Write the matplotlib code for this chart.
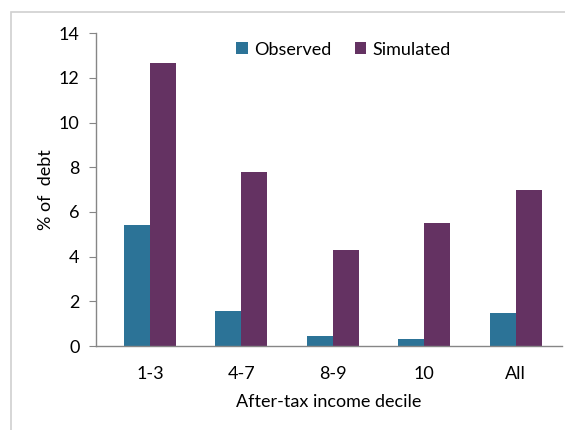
import matplotlib.pyplot as plt
import numpy as np
from matplotlib.patches import Rectangle

# data
categories = ['1-3', '4-7', '8-9', '10', 'All']
observed = [5.4, 1.55, 0.45, 0.3, 1.5]
simulated = [12.65, 7.8, 4.3, 5.5, 7.0]

plt.rcParams['font.family'] = ['Lato', 'DejaVu Sans']

fig = plt.figure(figsize=(5.65, 4.30), dpi=100)
ax = fig.add_axes([0.170, 0.195, 0.825, 0.728])

# outer chart border (cut off at right and bottom as in the reference)
fig.patches.append(Rectangle((11 / 565, -0.05), 1.2, 1.05 - 12 / 430,
                             transform=fig.transFigure, fill=False,
                             edgecolor='#D0D0D0', linewidth=1.2))

x = np.arange(len(categories))
w = 0.285
ax.bar(x - w / 2, observed, w, color='#2C7397', label='Observed')
ax.bar(x + w / 2, simulated, w, color='#643262', label='Simulated')

ax.set_ylim(0, 14)
ax.set_yticks(range(0, 15, 2))
ax.set_xlim(-0.59, 4.51)
ax.set_xticks(x)
ax.set_xticklabels(categories)

for s in ['top', 'right']:
    ax.spines[s].set_visible(False)
for s in ['left', 'bottom']:
    ax.spines[s].set_color('#868686')
    ax.spines[s].set_linewidth(1.0)

ax.tick_params(axis='y', length=5, color='#868686', labelsize=13, pad=7)
ax.tick_params(axis='x', length=0, labelsize=13, pad=14)

ax.set_ylabel('% of  debt', fontsize=13, labelpad=3)
ax.set_xlabel('After-tax income decile', fontsize=13, labelpad=9)

ax.legend(loc='upper left', bbox_to_anchor=(0.265, 1.025), ncol=2, frameon=False,
          fontsize=13, handlelength=0.65, handleheight=0.65, handletextpad=0.35,
          columnspacing=1.3)

fig.savefig('out.png', dpi=100)
